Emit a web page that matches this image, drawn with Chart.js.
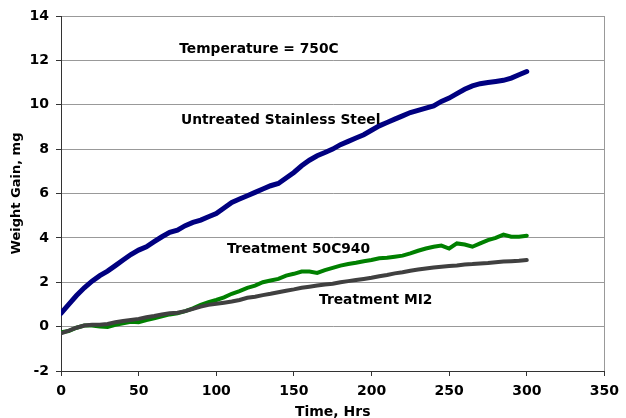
<!DOCTYPE html>
<html>
<head>
<meta charset="utf-8">
<title>Weight Gain vs Time</title>
<script src="https://cdn.jsdelivr.net/npm/chart.js@4/dist/chart.umd.min.js"></script>
<style>
  html, body { margin: 0; padding: 0; background: #fff; }
  #wrap { width: 626px; height: 418px; }
</style>
</head>
<body>
<div id="wrap"><canvas id="myChart" width="626" height="418"></canvas></div>
<script>
'use strict'

// time in hours, one reading every 5 h
const hours = [
  0, 5, 10, 15, 20, 25, 30, 35, 40, 45, 50, 55, 60, 65, 70, 75, 80, 85, 90, 95,
  100, 105, 110, 115, 120, 125, 130, 135, 140, 145, 150, 155, 160, 165, 170, 175, 180, 185, 190, 195,
  200, 205, 210, 215, 220, 225, 230, 235, 240, 245, 250, 255, 260, 265, 270, 275, 280, 285, 290, 295, 300
];

// weight gain, mg
const untreated = [
  0.6, 1.0, 1.4, 1.75, 2.05, 2.3, 2.5, 2.75, 3.0, 3.25, 3.45, 3.6, 3.83, 4.05, 4.25, 4.35, 4.55, 4.7, 4.8, 4.95,
  5.1, 5.35, 5.6, 5.75, 5.9, 6.05, 6.2, 6.35, 6.45, 6.7, 6.95, 7.25, 7.5, 7.7, 7.85, 8.0, 8.2, 8.35, 8.5, 8.65,
  8.85, 9.05, 9.2, 9.35, 9.5, 9.65, 9.75, 9.85, 9.95, 10.15, 10.3, 10.5, 10.7, 10.85, 10.95, 11.0, 11.05, 11.1, 11.2, 11.35, 11.5
];
const t50c940 = [
  -0.25, -0.2, -0.05, 0.05, 0.05, 0.0, -0.02, 0.08, 0.15, 0.22, 0.2, 0.3, 0.38, 0.46, 0.55, 0.6, 0.7, 0.82, 0.98, 1.1,
  1.2, 1.32, 1.48, 1.6, 1.75, 1.85, 2.0, 2.08, 2.15, 2.3, 2.38, 2.48, 2.48, 2.42, 2.55, 2.65, 2.75, 2.82, 2.88, 2.95,
  3.0, 3.08, 3.1, 3.15, 3.2, 3.3, 3.42, 3.52, 3.6, 3.65, 3.52, 3.75, 3.7, 3.6, 3.75, 3.9, 4.0, 4.15, 4.05, 4.05, 4.1
];
const mi2 = [
  -0.3, -0.18, -0.05, 0.05, 0.08, 0.08, 0.12, 0.2, 0.25, 0.3, 0.35, 0.42, 0.48, 0.55, 0.6, 0.63, 0.7, 0.8, 0.9, 0.98,
  1.03, 1.08, 1.13, 1.2, 1.3, 1.35, 1.42, 1.48, 1.55, 1.62, 1.68, 1.75, 1.8, 1.85, 1.9, 1.93, 2.0, 2.05, 2.1, 2.15,
  2.2, 2.27, 2.33, 2.4, 2.45, 2.52, 2.57, 2.62, 2.66, 2.7, 2.73, 2.76, 2.8, 2.82, 2.85, 2.87, 2.9, 2.93, 2.95, 2.97, 3.0
];

// text labels placed in data coordinates (hours, mg)
const noteText = ['Temperature = 750C', 'Untreated Stainless Steel', 'Treatment 50C940', 'Treatment MI2'];
const noteX = [127.5, 141.5, 153, 202.7];
const noteY = [12.5, 9.28, 3.5, 1.2];

const FONT = '"DejaVu Sans", Verdana, sans-serif';

function toPoints(xs, ys) {
  return xs.map((x, i) => ({x: x, y: ys[i]}));
}

// draws the labels inside the plot
const notesPlugin = {
  id: 'notes',
  afterDatasetsDraw(chart) {
    const ctx = chart.ctx;
    const xs = chart.scales.x;
    const ys = chart.scales.y;
    ctx.save();
    ctx.font = 'bold 13.8px ' + FONT;
    ctx.fillStyle = '#000';
    ctx.textAlign = 'center';
    ctx.textBaseline = 'middle';
    for (let i = 0; i < noteText.length; i++) {
      ctx.fillText(noteText[i], xs.getPixelForValue(noteX[i]), ys.getPixelForValue(noteY[i]));
    }
    ctx.restore();
  }
};

const ctx = document.getElementById('myChart');
window.myChart = new Chart(ctx, {
  type: 'line',
  data: {
    datasets: [
      {
        label: 'Untreated Stainless Steel',
        data: toPoints(hours, untreated),
        borderColor: '#000080',
        borderWidth: 5
      },
      {
        label: 'Treatment MI2',
        data: toPoints(hours, mi2),
        borderColor: '#404040',
        borderWidth: 4
      },
      {
        label: 'Treatment 50C940',
        data: toPoints(hours, t50c940),
        borderColor: '#008000',
        borderWidth: 4
      }
    ]
  },
  options: {
    responsive: false,
    animation: false,
    events: [],
    layout: { padding: { top: 16, right: 16, left: 0, bottom: 0 } },
    elements: { point: { radius: 0 }, line: { tension: 0, borderCapStyle: 'round' } },
    plugins: { legend: { display: false }, tooltip: { enabled: false } },
    scales: {
      x: {
        type: 'linear',
        min: 0,
        max: 350,
        afterFit(scale) { scale.height = 47; },
        ticks: {
          stepSize: 50,
          padding: 7,
          color: '#000',
          maxRotation: 0,
          font: { family: FONT, size: 14, weight: 'bold' }
        },
        grid: {
          color: c => (c.tick && c.tick.value === 350 ? '#999' : 'rgba(0,0,0,0)'),
          tickColor: '#333',
          tickLength: 5,
          lineWidth: 1
        },
        border: { color: '#333', width: 1 },
        title: {
          display: true,
          text: 'Time, Hrs',
          color: '#000',
          padding: { top: 0, bottom: -3 },
          font: { family: FONT, size: 14, weight: 'bold' }
        }
      },
      y: {
        min: -2,
        max: 14,
        afterFit(scale) { scale.width = 61; },
        ticks: {
          stepSize: 2,
          padding: 7,
          color: '#000',
          font: { family: FONT, size: 14, weight: 'bold' }
        },
        grid: {
          color: '#999',
          tickColor: '#333',
          tickLength: 5,
          lineWidth: 1
        },
        border: { color: '#333', width: 1 },
        title: {
          display: true,
          text: 'Weight Gain, mg',
          color: '#000',
          padding: { top: 9, bottom: 0 },
          font: { family: FONT, size: 13, weight: 'bold' }
        }
      }
    }
  },
  plugins: [notesPlugin]
});
</script>
</body>
</html>
